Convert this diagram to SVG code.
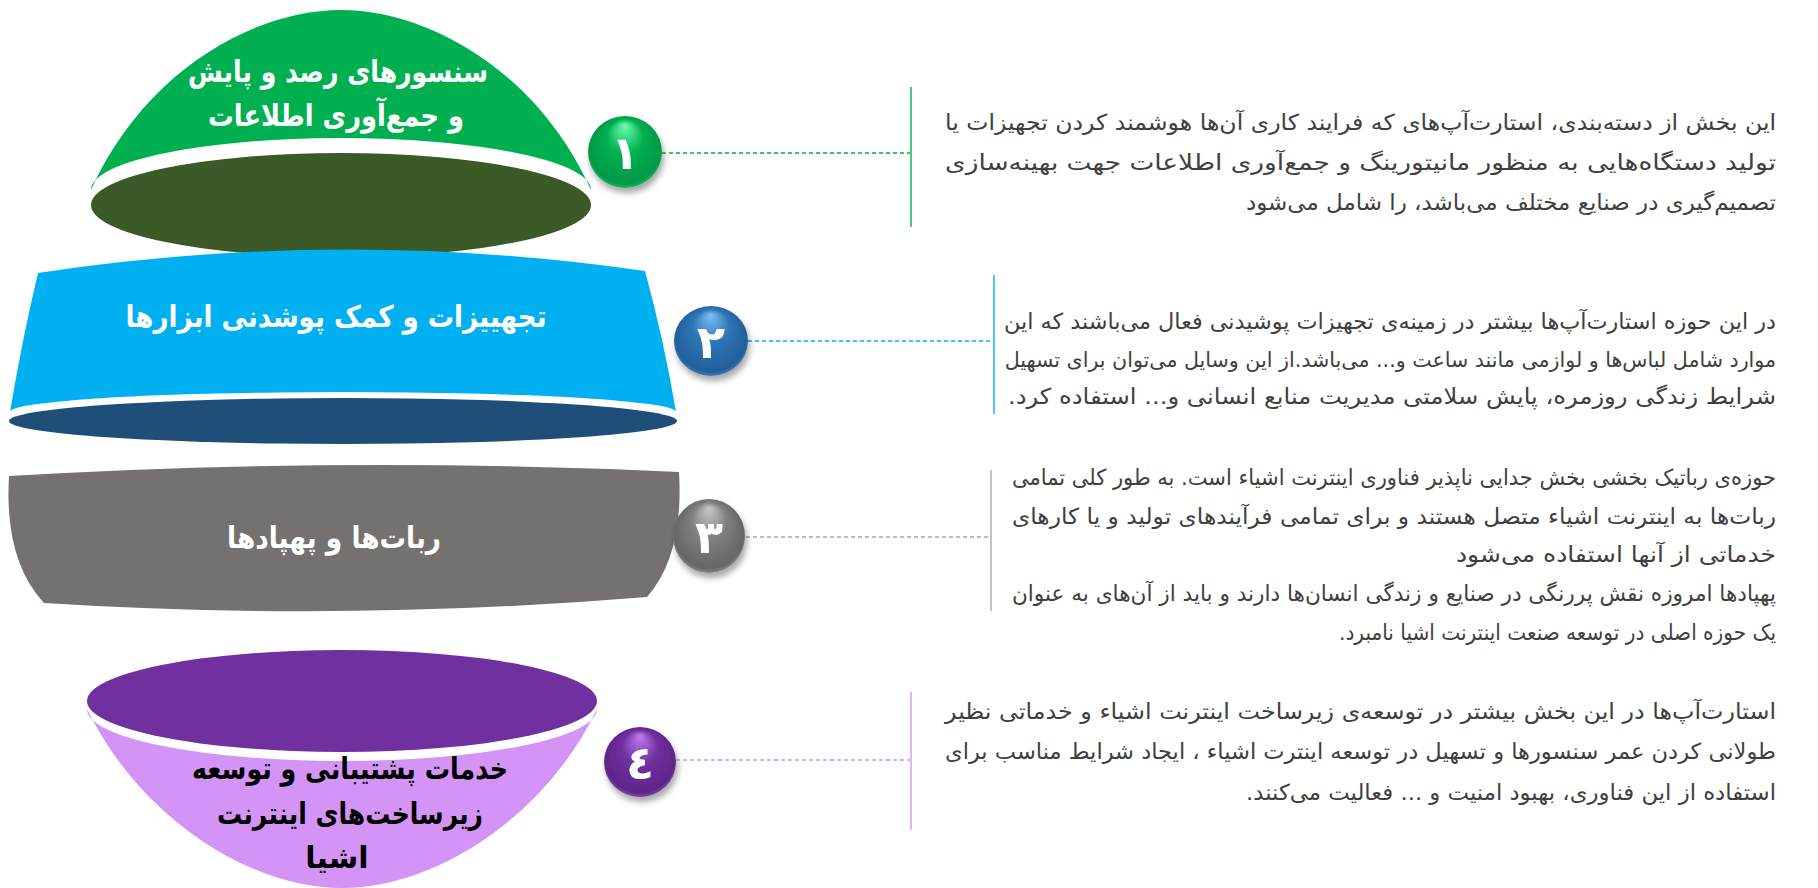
<svg xmlns="http://www.w3.org/2000/svg" width="1818" height="888" viewBox="0 0 1818 888">
<style>
.title{font-family:'DejaVu Sans',sans-serif;font-weight:bold;fill:#ffffff;text-anchor:middle;direction:rtl}
.title.dark{fill:#000000}
.body{font-family:'DejaVu Sans',sans-serif;font-size:22px;fill:#404040;text-anchor:start;direction:rtl}
.digit{font-family:'DejaVu Sans',sans-serif;font-weight:bold;font-size:46px;fill:#ffffff;text-anchor:middle}
.dash{fill:none;stroke-width:1.4;stroke-dasharray:4 3}
.bar{fill:none;stroke-width:1.4}
</style>
<defs>
<filter id="sh" x="-40%" y="-40%" width="180%" height="190%">
<feDropShadow dx="2" dy="5" stdDeviation="3" flood-color="#000" flood-opacity="0.35"/>
</filter>
<radialGradient id="gG" cx="0.5" cy="0.5" r="0.55" fx="0.5" fy="0.12">
<stop offset="0" stop-color="#6dffae"/><stop offset="0.45" stop-color="#00b050"/><stop offset="0.88" stop-color="#009846"/><stop offset="1" stop-color="#34cf78"/>
</radialGradient>
<radialGradient id="gB" cx="0.5" cy="0.5" r="0.55" fx="0.5" fy="0.12">
<stop offset="0" stop-color="#7dbff5"/><stop offset="0.45" stop-color="#2e75b6"/><stop offset="0.88" stop-color="#235f99"/><stop offset="1" stop-color="#5596d2"/>
</radialGradient>
<radialGradient id="gS" cx="0.5" cy="0.5" r="0.55" fx="0.5" fy="0.12">
<stop offset="0" stop-color="#c9c9c9"/><stop offset="0.45" stop-color="#7f7f7f"/><stop offset="0.88" stop-color="#666666"/><stop offset="1" stop-color="#a0a0a0"/>
</radialGradient>
<radialGradient id="gP" cx="0.5" cy="0.5" r="0.55" fx="0.5" fy="0.12">
<stop offset="0" stop-color="#c07ef0"/><stop offset="0.45" stop-color="#7030a0"/><stop offset="0.88" stop-color="#5e2688"/><stop offset="1" stop-color="#9a5ac8"/>
</radialGradient>
</defs>
<rect width="1818" height="888" fill="#ffffff"/>

<!-- node 1 -->
<g id="node-1">
<path d="M91 190 C145 70 255 10 341 10 C427 10 537 70 591 190 A250 52 0 0 0 91 190 Z" fill="#00b050"/>
<ellipse cx="341" cy="205" rx="250" ry="52" fill="#3c5a27"/>
<text class="title" x="338" y="82" font-size="30" textLength="300" lengthAdjust="spacingAndGlyphs">سنسورهای رصد و پایش</text>
<text class="title" x="336" y="126" font-size="30" textLength="256" lengthAdjust="spacingAndGlyphs">و جمع&#8204;آوری اطلاعات</text>
</g>

<!-- node 2 -->
<g id="node-2">
<path d="M38 273 Q340 227 645 271 Q664 340 676 412 A333 20 0 0 0 10 412 Q22 340 38 273 Z" fill="#00b0f0"/>
<ellipse cx="343" cy="421" rx="334" ry="23" fill="#1f4e79"/>
<text class="title" x="336" y="327" font-size="30" textLength="421" lengthAdjust="spacingAndGlyphs">تجهییزات و کمک پوشدنی ابزارها</text>
</g>

<!-- node 3 -->
<g id="node-3">
<path d="M9 476 Q344 456 679 472 Q684 555 647 597 Q345 622 44 603 Q4 560 9 476 Z" fill="#767171"/>
<text class="title" x="334" y="548" font-size="30" textLength="214" lengthAdjust="spacingAndGlyphs">ربات&#8204;ها و پهپادها</text>
</g>

<!-- node 4 -->
<g id="node-4">
<path d="M87 709 C140 818 250 888 342 888 C434 888 545 818 597 709 A255 52 0 0 1 87 709 Z" fill="#d394f5"/>
<ellipse cx="342" cy="701" rx="255" ry="51" fill="#7030a0"/>
<text class="title dark" x="350" y="779" font-size="30" textLength="316" lengthAdjust="spacingAndGlyphs">خدمات پشتیبانی و توسعه</text>
<text class="title dark" x="350" y="824" font-size="30" textLength="266" lengthAdjust="spacingAndGlyphs">زیرساخت&#8204;های اینترنت</text>
<text class="title dark" x="337" y="868" font-size="30">اشیا</text>
</g>

<!-- connectors -->
<g id="connectors">
<line class="dash" x1="662" y1="153" x2="910" y2="153" stroke="#00b050"/>
<line class="dash" x1="748" y1="341" x2="993" y2="341" stroke="#00b0f0"/>
<line class="dash" x1="746" y1="537" x2="990" y2="537" stroke="#a6a6a6"/>
<line class="dash" x1="676" y1="760" x2="910" y2="760" stroke="#d394f5"/>
</g>

<!-- badges -->
<g id="badge-1" filter="url(#sh)">
<ellipse cx="625" cy="152" rx="37" ry="36" fill="url(#gG)"/>
<text class="digit" x="625" y="169">١</text>
</g>
<g id="badge-2" filter="url(#sh)">
<ellipse cx="711" cy="341" rx="37" ry="35" fill="url(#gB)"/>
<text class="digit" x="711" y="358">٢</text>
</g>
<g id="badge-3" filter="url(#sh)">
<ellipse cx="709" cy="536" rx="36" ry="37" fill="url(#gS)"/>
<text class="digit" x="709" y="553">٣</text>
</g>
<g id="badge-4" filter="url(#sh)">
<ellipse cx="640" cy="762" rx="36" ry="35" fill="url(#gP)"/>
<text class="digit" x="640" y="779">٤</text>
</g>

<!-- descriptions -->
<g id="desc-1">
<line class="bar" x1="911" y1="87" x2="911" y2="227" stroke="#00b050"/>
<text class="body" x="1776" y="130" textLength="831" lengthAdjust="spacingAndGlyphs">این بخش از دسته&#8204;بندی، استارت&#8204;آپ&#8204;های که فرایند کاری آن&#8204;ها هوشمند کردن تجهیزات یا</text>
<text class="body" x="1776" y="170" textLength="831" lengthAdjust="spacingAndGlyphs">تولید دستگاه&#8204;هایی به منظور مانیتورینگ و جمع&#8204;آوری اطلاعات جهت بهینه&#8204;سازی</text>
<text class="body" x="1776" y="210" textLength="530" lengthAdjust="spacingAndGlyphs">تصمیم&#8204;گیری در صنایع مختلف می&#8204;باشد، را شامل می&#8204;شود</text>
</g>
<g id="desc-2">
<line class="bar" x1="994" y1="275" x2="994" y2="414" stroke="#00b0f0"/>
<text class="body" x="1776" y="329" textLength="772" lengthAdjust="spacingAndGlyphs">در این حوزه استارت&#8204;آپ&#8204;ها بیشتر در زمینه&#8204;ی تجهیزات پوشیدنی فعال می&#8204;باشند که این</text>
<text class="body" x="1776" y="367" style="font-size:20.6px">موارد شامل لباس&#8204;ها و لوازمی مانند ساعت و... می&#8204;باشد.از این وسایل می&#8204;توان برای تسهیل</text>
<text class="body" x="1776" y="404" textLength="768" lengthAdjust="spacingAndGlyphs">شرایط زندگی روزمره، پایش سلامتی مدیریت منابع انسانی و... استفاده کرد.</text>
</g>
<g id="desc-3">
<line class="bar" x1="991" y1="470" x2="991" y2="611" stroke="#a6a6a6"/>
<text class="body" x="1776" y="485" textLength="764" lengthAdjust="spacingAndGlyphs">حوزه&#8204;ی رباتیک بخشی بخش جدایی ناپذیر فناوری اینترنت اشیاء است. به طور کلی تمامی</text>
<text class="body" x="1776" y="524" textLength="764" lengthAdjust="spacingAndGlyphs">ربات&#8204;ها به اینترنت اشیاء متصل هستند و برای تمامی فرآیندهای تولید و یا کارهای</text>
<text class="body" x="1776" y="562" textLength="320" lengthAdjust="spacingAndGlyphs">خدماتی از آنها استفاده می&#8204;شود</text>
<text class="body" x="1776" y="601" textLength="764" lengthAdjust="spacingAndGlyphs">پهپادها امروزه نقش پررنگی در صنایع و زندگی انسان&#8204;ها دارند و باید از آن&#8204;های به عنوان</text>
<text class="body" x="1776" y="640" textLength="437" lengthAdjust="spacingAndGlyphs">یک حوزه اصلی در توسعه صنعت اینترنت اشیا نامبرد.</text>
</g>
<g id="desc-4">
<line class="bar" x1="911" y1="692" x2="911" y2="830" stroke="#d394f5"/>
<text class="body" x="1776" y="719" textLength="831" lengthAdjust="spacingAndGlyphs">استارت&#8204;آپ&#8204;ها در این بخش بیشتر در توسعه&#8204;ی زیرساخت اینترنت اشیاء و خدماتی نظیر</text>
<text class="body" x="1776" y="759" textLength="831" lengthAdjust="spacingAndGlyphs">طولانی کردن عمر سنسورها و تسهیل در توسعه اینترت اشیاء ، ایجاد شرایط مناسب برای</text>
<text class="body" x="1776" y="800" textLength="530" lengthAdjust="spacingAndGlyphs">استفاده از این فناوری، بهبود امنیت و ... فعالیت می&#8204;کنند.</text>
</g>
</svg>
